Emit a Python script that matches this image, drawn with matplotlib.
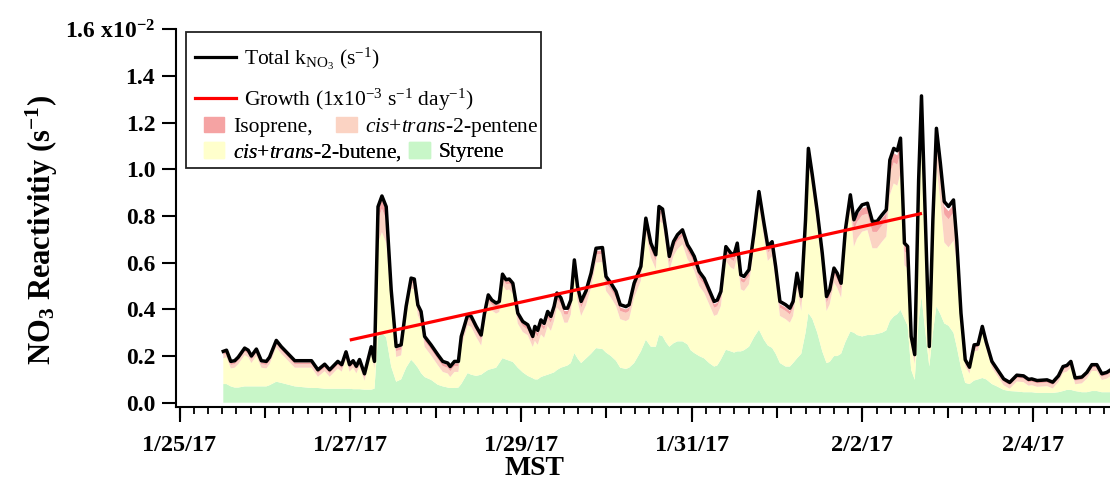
import pandas as pd
import matplotlib
matplotlib.use('Agg')
import matplotlib.pyplot as plt
import matplotlib.dates as mdates
from matplotlib.lines import Line2D
from matplotlib.patches import Patch, Rectangle
from matplotlib.ticker import FixedLocator, FuncFormatter

plt.rcParams['font.family'] = 'Liberation Serif'
plt.rcParams['font.weight'] = 'bold'
plt.rcParams['axes.labelweight'] = 'bold'
plt.rcParams['mathtext.fontset'] = 'custom'
plt.rcParams['mathtext.rm'] = 'Liberation Serif:weight=normal'
plt.rcParams['mathtext.it'] = 'Liberation Serif:style=italic:weight=normal'
plt.rcParams['mathtext.bf'] = 'Liberation Serif:weight=bold'
plt.rcParams['mathtext.default'] = 'regular'

# --- data (hours after 1/25/17 00:00 MST, NO3 reactivity in 1e-2 s^-1) ---
start = pd.Timestamp('2017-01-25')

hours = [12.3, 13.2, 14.4, 15.5, 16.5, 18.3, 19.3, 20.2, 21.6, 23.0,
         24.4, 25.3, 27.2, 28.6, 32.4, 37.1, 38.9, 40.8, 42.2, 44.5,
         45.6, 46.8, 47.8, 48.8, 49.7, 50.6, 52.0, 53.9, 54.8, 55.8,
         56.9, 58.1, 59.5, 60.9, 62.3, 63.7, 65.1, 66.0, 67.0, 67.9,
         68.9, 70.7, 72.6, 74.0, 75.4, 76.1, 77.3, 78.4, 79.2, 81.0,
         82.0, 83.4, 84.8, 85.7, 86.8, 87.8, 89.0, 89.9, 90.8, 91.8,
         92.7, 93.7, 95.1, 96.5, 97.9, 99.3,
         99.9, 100.7, 101.6, 102.5, 103.5, 104.4, 105.3, 106.1, 107.2, 108.2,
         109.1, 110.0, 111.0, 111.9, 112.9, 114.3, 115.7, 117.1, 118.9, 119.9,
         121.3, 122.7, 123.9, 125.5, 126.4, 127.8, 129.7, 131.1, 132.5, 133.9,
         134.8, 135.8, 136.7, 137.7, 138.9, 140.0, 141.4, 142.8,
         143.7, 144.7, 146.1, 147.5, 148.9, 150.3, 151.2, 152.2, 153.6, 155.0,
         155.9, 156.8, 157.8, 158.7, 160.1, 161.5, 162.9, 164.3, 165.4, 166.6,
         167.6, 168.8, 170.4, 171.6, 172.5, 173.6, 174.8, 176.0, 176.8, 177.9,
         179.3, 180.7, 181.9, 182.8, 184.0, 184.9, 186.0, 187.2, 188.6,
         189.6, 190.5, 191.9, 193.4, 194.8, 196.1, 197.5, 198.7, 199.7, 200.8,
         201.8, 202.7, 203.8, 204.7, 205.7, 206.7, 207.8, 208.6, 209.7, 210.8,
         211.8, 212.8, 213.9, 215.0, 216.2, 217.6, 218.5, 219.7,
         220.9, 222.1, 223.4, 224.5, 225.7, 226.8, 228.4, 229.8, 231.7, 233.4,
         235.4, 237.3, 238.7, 239.6, 241.1, 243.9, 245.5, 247.1, 248.4, 249.5,
         250.6, 251.8, 253.7, 255.1, 256.5, 257.9, 259.3, 260.7, 262.2]

total = [.220, .225, .177, .180, .195, .234, .225, .200, .230, .180,
         .177, .195, .267, .240, .180, .180, .141, .165, .141, .177,
         .163, .218, .163, .180, .156, .185, .124, .240, .177, .840,
         .886, .840, .484, .241, .248, .413, .534, .530, .419, .391,
         .284, .248, .206, .177, .170, .155, .177, .177, .284, .377,
         .370, .327, .290, .380, .462, .440, .427, .434, .551, .527,
         .530, .512, .384, .348, .334, .284,
         .327, .310, .355, .340, .391, .370, .413, .470, .450, .405,
         .405, .440, .612, .498, .434, .480, .555, .662, .665, .541,
         .512, .477, .420, .412, .420, .512, .584, .791, .684, .634,
         .841, .830, .741, .627, .691, .720, .741, .677,
         .655, .627, .562, .533, .484, .434, .440, .477, .669, .641,
         .634, .684, .548, .541, .570, .727, .905, .770, .670, .690,
         .584, .434, .420, .405, .434, .555, .455, .784, 1.090, .976,
         .819, .641, .455, .484, .577, .555, .512, .741, .891,
         .784, .819, .848, .855, .777, .777, .805, .827, 1.040, 1.090,
         1.080, 1.134, .684, .670, .284, .206, .955, 1.315, .784, .241,
         .784, 1.176, 1.027, .862, .841, .869, .698, .384,
         .184, .152, .248, .250, .327, .260, .177, .145, .102, .087,
         .118, .115, .100, .102, .095, .098, .088, .115, .155, .160,
         .177, .106, .110, .130, .163, .163, .124, .130, .145]

styrene = [.080, .080, .070, .065, .065, .070, .070, .070, .070, .070,
           .070, .075, .090, .085, .070, .063, .063, .060, .060, .060,
           .060, .060, .060, .058, .058, .058, .056, .056, .060, .280,
           .300, .280, .155, .090, .100, .150, .184, .170, .150, .127,
           .110, .098, .077, .070, .065, .063, .063, .065, .080, .127,
           .120, .115, .120, .130, .141, .145, .150, .170, .191, .185,
           .180, .175, .150, .130, .115, .105,
           .100, .100, .110, .115, .120, .125, .130, .140, .150, .155,
           .160, .170, .213, .190, .170, .190, .210, .234, .230, .215,
           .200, .180, .150, .145, .150, .170, .220, .270, .240, .240,
           .290, .285, .260, .240, .255, .263, .263, .250,
           .225, .213, .200, .190, .170, .155, .160, .185, .227, .220,
           .215, .220, .220, .225, .240, .280, .313, .270, .245, .235,
           .210, .170, .155, .155, .170, .190, .210, .300, .384, .360,
           .300, .220, .170, .175, .200, .200, .210, .260, .305,
           .300, .290, .284, .290, .290, .295, .300, .310, .350, .370,
           .380, .398, .360, .330, .141, .098, .350, .455, .300, .155,
           .300, .413, .380, .340, .330, .300, .240, .150,
           .085, .080, .095, .100, .106, .100, .080, .070, .055, .050,
           .048, .045, .045, .045, .042, .042, .042, .045, .050, .055,
           .055, .050, .045, .045, .050, .050, .045, .045, .045]

butene = [.110, .115, .077, .085, .100, .134, .125, .100, .130, .080,
          .077, .090, .147, .125, .080, .087, .048, .075, .051, .087,
          .073, .128, .073, .092, .068, .097, .038, .154, .087, .405,
          .431, .405, .284, .106, .103, .218, .305, .315, .224, .219,
          .129, .105, .084, .062, .060, .047, .069, .067, .159, .205,
          .205, .167, .125, .205, .276, .250, .232, .219, .315, .297,
          .305, .292, .189, .173, .174, .134,
          .165, .148, .183, .163, .209, .183, .221, .268, .238, .188,
          .183, .208, .337, .246, .202, .228, .283, .366, .373, .264,
          .250, .235, .208, .205, .208, .280, .302, .459, .382, .332,
          .489, .483, .419, .325, .374, .395, .416, .365,
          .368, .352, .300, .281, .252, .217, .218, .230, .380, .359,
          .357, .402, .266, .254, .268, .385, .530, .438, .363, .393,
          .312, .202, .203, .188, .202, .303, .183, .422, .644, .554,
          .457, .359, .223, .247, .315, .293, .240, .419, .524,
          .369, .414, .449, .450, .372, .367, .390, .402, .540, .570,
          .550, .586, .229, .245, .103, .068, .515, .770, .394, .046,
          .394, .603, .487, .347, .336, .394, .363, .182,
          .072, .045, .126, .123, .194, .133, .070, .048, .020, .010,
          .043, .043, .028, .030, .026, .029, .019, .043, .078, .078,
          .095, .029, .038, .058, .086, .086, .052, .058, .073]

pentene = [.015, .015, .015, .015, .015, .015, .015, .015, .015, .015,
           .015, .015, .015, .015, .015, .015, .015, .015, .015, .015,
           .015, .015, .015, .015, .015, .015, .015, .015, .015, .100,
           .100, .100, .025, .025, .025, .025, .025, .025, .025, .025,
           .025, .025, .025, .025, .025, .025, .025, .025, .025, .025,
           .025, .025, .025, .025, .025, .025, .025, .025, .025, .025,
           .025, .025, .025, .025, .025, .025,
           .035, .035, .035, .035, .035, .035, .035, .035, .035, .035,
           .035, .035, .035, .035, .035, .035, .035, .035, .035, .035,
           .035, .035, .035, .035, .035, .035, .035, .035, .035, .035,
           .035, .035, .035, .035, .035, .035, .035, .035,
           .035, .035, .035, .035, .035, .035, .035, .035, .035, .035,
           .035, .035, .035, .035, .035, .035, .035, .035, .035, .035,
           .035, .035, .035, .035, .035, .035, .035, .035, .035, .035,
           .035, .035, .035, .035, .035, .035, .035, .035, .035,
           .070, .070, .070, .070, .070, .070, .070, .070, .090, .090,
           .090, .090, .060, .060, .020, .020, .050, .050, .050, .020,
           .050, .100, .100, .120, .120, .120, .060, .030,
           .015, .015, .015, .015, .015, .015, .015, .015, .015, .015,
           .015, .015, .015, .015, .015, .015, .015, .015, .015, .015,
           .015, .015, .015, .015, .015, .015, .015, .015, .015]

isoprene = [.008, .008, .008, .008, .008, .008, .008, .008, .008, .008,
            .008, .008, .008, .008, .008, .008, .008, .008, .008, .008,
            .008, .008, .008, .008, .008, .008, .008, .008, .008, .040,
            .040, .040, .012, .012, .012, .012, .012, .012, .012, .012,
            .012, .012, .012, .012, .012, .012, .012, .012, .012, .012,
            .012, .012, .012, .012, .012, .012, .012, .012, .012, .012,
            .012, .012, .012, .012, .012, .012,
            .015, .015, .015, .015, .015, .015, .015, .015, .015, .015,
            .015, .015, .015, .015, .015, .015, .015, .015, .015, .015,
            .015, .015, .015, .015, .015, .015, .015, .015, .015, .015,
            .015, .015, .015, .015, .015, .015, .015, .015,
            .015, .015, .015, .015, .015, .015, .015, .015, .015, .015,
            .015, .015, .015, .015, .015, .015, .015, .015, .015, .015,
            .015, .015, .015, .015, .015, .015, .015, .015, .015, .015,
            .015, .015, .015, .015, .015, .015, .015, .015, .015,
            .030, .030, .030, .030, .030, .030, .030, .030, .040, .040,
            .040, .040, .025, .025, .010, .010, .020, .020, .020, .010,
            .020, .040, .040, .035, .035, .035, .020, .012,
            .007, .007, .007, .007, .007, .007, .007, .007, .007, .007,
            .007, .007, .007, .007, .007, .007, .007, .007, .007, .007,
            .007, .007, .007, .007, .007, .007, .007, .007, .007]

# linear growth fit drawn in red
growth_hours = [48.3, 208.3]
growth_vals = [0.27, 0.81]

label_days = ['2017-01-25', '2017-01-27', '2017-01-29', '2017-01-31',
              '2017-02-02', '2017-02-04']
y_ticks = [0.0, 0.2, 0.4, 0.6, 0.8, 1.0, 1.2, 1.4, 1.6]

colors = {'styrene': '#c8f6c8', 'butene': '#ffffcc',
          'pentene': '#fbd3c3', 'isoprene': '#f5a3a3'}


def to_num(h):
    return mdates.date2num((start + pd.to_timedelta(h, unit='h')).to_pydatetime())


x = to_num(hours)
xg = to_num(growth_hours)

fig = plt.figure(figsize=(11.1, 4.83), dpi=100)
ax = fig.add_axes([176 / 1110, 76 / 483, 934 / 1110, 377.6 / 483])

ax.stackplot(x, styrene, butene, pentene, isoprene,
             colors=[colors['styrene'], colors['butene'],
                     colors['pentene'], colors['isoprene']],
             linewidth=0, zorder=1)
ax.plot(x, total, color='black', lw=2.5, zorder=3)
ax.plot(xg, growth_vals, color='#ff0000', lw=2.3, zorder=4)

ax.set_xlim(to_num([-1.0])[0], to_num([261.6])[0])
ax.set_ylim(-0.0184, 1.6)

for s in ['top', 'right']:
    ax.spines[s].set_visible(False)
for s in ['left', 'bottom']:
    ax.spines[s].set_linewidth(1.5)

# y ticks
ax.yaxis.set_major_locator(FixedLocator(y_ticks))
ax.yaxis.set_major_formatter(FuncFormatter(
    lambda v, p: '1.6 x10$^{-2}$' if abs(v - 1.6) < 1e-6 else f'{v:.1f}'))
ax.tick_params(axis='y', direction='out', length=10, width=1.5, pad=5,
               labelsize=17)

# x ticks: labelled every 2 days, medium daily, minor every 4 h
label_nums = mdates.date2num(pd.to_datetime(label_days).to_pydatetime())
ax.xaxis.set_major_locator(FixedLocator(label_nums))
ax.xaxis.set_major_formatter(FuncFormatter(
    lambda v, p: (lambda d: f'{d.month}/{d.day}/{d:%y}')(mdates.num2date(v))))
ax.xaxis.set_minor_locator(mdates.HourLocator(byhour=range(0, 24, 4)))
ax.tick_params(axis='x', which='major', direction='out', length=11,
               width=1.5, pad=9, labelsize=17.5)
ax.tick_params(axis='x', which='minor', direction='out', length=5, width=1.3)

all_days = mdates.date2num(pd.date_range(start, periods=11, freq='D').to_pydatetime())
sec = ax.secondary_xaxis('bottom')
sec.set_xticks(all_days)
sec.tick_params(axis='x', direction='out', length=8, width=1.5,
                labelbottom=False)
sec.spines['bottom'].set_visible(False)

ax.set_ylabel('NO$_3$ Reactivitiy (s$^{-1}$)', fontsize=22, fontweight='bold')
ax.yaxis.set_label_coords(-0.124, 0.47)
ax.set_xlabel('MST', fontsize=20, fontweight='bold')
ax.xaxis.set_label_coords(0.384, -0.13)

# --- legend: framed box with one legend per row ---
frame = Rectangle((0.0107, 0.632), 0.380, 0.360, transform=ax.transAxes,
                  facecolor='white', edgecolor='#222222', lw=1.3, zorder=5)
ax.add_patch(frame)

leg_font = {'family': 'Liberation Serif', 'weight': 'normal', 'size': 15.5}


def row_legend(handles, labels, fx, fy, hlen, colsp=0.5):
    leg = ax.legend(handles, labels, loc='center left', bbox_to_anchor=(fx, fy),
                    ncol=len(handles), frameon=False, borderpad=0,
                    borderaxespad=0, handlelength=hlen, handleheight=0.75,
                    handletextpad=0.4, columnspacing=colsp, prop=leg_font)
    leg.set_zorder(6)
    ax.add_artist(leg)


row_legend([Line2D([], [], color='black', lw=2.3)],
           ['Total k$_{NO_3}$ (s$^{-1}$)'], 0.0203, 0.922, 1.9)
row_legend([Line2D([], [], color='#ff0000', lw=2.3)],
           ['Growth (1x10$^{-3}$ s$^{-1}$ day$^{-1}$)'], 0.0203, 0.813, 1.9)
row_legend([Patch(color=colors['isoprene']), Patch(color=colors['pentene'])],
           ['Isoprene,', r'$\mathit{cis}$+$\mathit{trans}$-2-pentene'],
           0.030, 0.74, 0.95, colsp=1.1)
row_legend([Patch(color=colors['butene']), Patch(color=colors['styrene'])],
           [r'$\mathit{cis}$+$\mathit{trans}$-2-butene,', 'Styrene'],
           0.030, 0.674, 0.95, colsp=0.35)

fig.savefig('out.png', dpi=100)
